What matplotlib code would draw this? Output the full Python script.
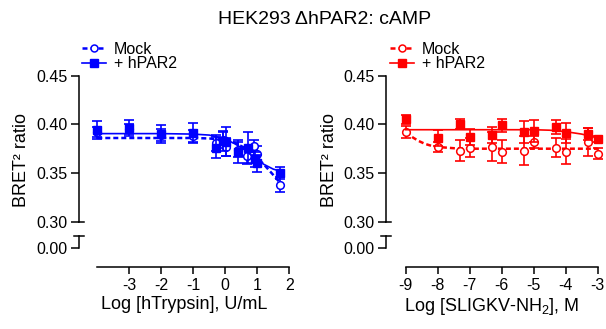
import numpy as np
import matplotlib
matplotlib.use("Agg")
import matplotlib.pyplot as plt
from matplotlib.lines import Line2D

plt.rcParams['font.family'] = ['Liberation Sans', 'DejaVu Sans']
plt.rcParams['mathtext.fontset'] = 'custom'
plt.rcParams['mathtext.rm'] = 'Liberation Sans'
plt.rcParams['mathtext.it'] = 'Liberation Sans:italic'
plt.rcParams['axes.unicode_minus'] = False

BLUE = '#0000ff'
RED = '#ff0000'

# Left panel: hTrypsin (log U/mL)
tryp_mock_x = [-4.0, -3.0, -2.0, -1.0, -0.3, -0.08, 0.03, 0.41, 0.69, 0.89, 0.99, 1.71]
tryp_mock_y = [0.392, 0.395, 0.389, 0.388, 0.381, 0.384, 0.377, 0.374, 0.367, 0.378, 0.370, 0.338]
tryp_mock_err = [0.005, 0.005, 0.006, 0.006, 0.008, 0.008, 0.009, 0.008, 0.008, 0.006, 0.008, 0.008]
tryp_par2_x = [-4.0, -3.0, -2.0, -1.0, -0.3, -0.08, 0.02, 0.41, 0.70, 0.93, 0.98, 1.71]
tryp_par2_y = [0.394, 0.3965, 0.390, 0.391, 0.376, 0.383, 0.382, 0.372, 0.376, 0.364, 0.360, 0.350]
tryp_par2_err = [0.009, 0.008, 0.009, 0.010, 0.011, 0.010, 0.015, 0.012, 0.016, 0.008, 0.009, 0.006]
tryp_fit_mock_x = [-4.0, -1.0, -0.5, 0.0, 0.3, 0.6, 0.9, 1.2, 1.5, 1.71]
tryp_fit_mock_y = [0.386, 0.386, 0.3855, 0.384, 0.381, 0.376, 0.369, 0.359, 0.348, 0.340]
tryp_fit_par2_x = [-4.0, -2.0, -1.0, -0.5, 0.0, 0.3, 0.6, 0.9, 1.2, 1.5, 1.71]
tryp_fit_par2_y = [0.3905, 0.3905, 0.390, 0.389, 0.385, 0.380, 0.374, 0.366, 0.359, 0.354, 0.352]

# Right panel: SLIGKV-NH2 (log M)
slig_x = [-9.0, -8.0, -7.3, -7.0, -6.3, -6.0, -5.3, -5.0, -4.3, -4.0, -3.3, -3.0]
slig_mock_y = [0.392, 0.377, 0.373, 0.376, 0.377, 0.372, 0.373, 0.382, 0.376, 0.372, 0.382, 0.370]
slig_mock_err = [0.006, 0.005, 0.011, 0.010, 0.015, 0.012, 0.015, 0.006, 0.010, 0.013, 0.014, 0.006]
slig_par2_y = [0.405, 0.386, 0.400, 0.387, 0.389, 0.399, 0.392, 0.393, 0.397, 0.391, 0.390, 0.385]
slig_par2_err = [0.005, 0.008, 0.005, 0.008, 0.008, 0.007, 0.011, 0.011, 0.007, 0.010, 0.006, 0.003]
slig_fit_mock_x = [-9.0, -8.8, -8.6, -8.4, -8.2, -8.0, -7.5, -7.0, -3.0]
slig_fit_mock_y = [0.392, 0.387, 0.383, 0.380, 0.378, 0.3768, 0.3755, 0.375, 0.375]
slig_fit_par2_x = [-9.0, -5.0, -4.5, -4.0, -3.5, -3.0]
slig_fit_par2_y = [0.3945, 0.3945, 0.394, 0.3925, 0.390, 0.386]

W, H = 606, 329
fig = plt.figure(figsize=(W / 100, H / 100), dpi=100)

def add_px_axes(left, right, top, bottom):
    return fig.add_axes([left / W, 1 - bottom / H, (right - left) / W, (bottom - top) / H])

def panel(spine_px, first_px, last_px, x_first, x_last, xticks, color,
          mock, par2, fit_mock, fit_par2, xlabel, ylabel_px, legend_px):
    per_unit = (last_px - first_px) / (x_last - x_first)
    xl = x_first - (first_px - spine_px) / per_unit
    wpx = last_px - spine_px

    # upper part of broken axis
    ax = add_px_axes(spine_px, last_px, 75.7, 221.7)
    ax.set_xlim(xl, x_last)
    ax.set_ylim(0.30, 0.45)
    for s in ['top', 'right', 'bottom']:
        ax.spines[s].set_visible(False)
    ax.spines['left'].set_linewidth(1.1)
    ax.set_xticks([])
    ax.set_yticks([0.30, 0.35, 0.40, 0.45])
    ax.set_yticklabels(['0.30', '0.35', '0.40', '0.45'])
    ax.tick_params(axis='y', length=6, width=1.1, pad=2, labelsize=11.5)
    ax.patch.set_alpha(0)
    ax.plot([0, 5 / wpx], [0, 0], transform=ax.transAxes, color='k', lw=1.1, clip_on=False)

    # lower part with 0.00 and the x axis
    lo = add_px_axes(spine_px, last_px, 236.0, 267.3)
    lo.set_xlim(xl, x_last)
    lo.set_ylim(-19.6, 11.7)
    for s in ['top', 'right']:
        lo.spines[s].set_visible(False)
    lo.spines['left'].set_bounds(0, 11.7)
    lo.spines['bottom'].set_bounds(x_first, x_last)
    lo.spines['left'].set_linewidth(1.1)
    lo.spines['bottom'].set_linewidth(1.1)
    lo.set_yticks([0])
    lo.set_yticklabels(['0.00'])
    lo.set_xticks(xticks)
    lo.set_xticklabels([str(t) for t in xticks])
    lo.tick_params(axis='y', length=6, width=1.1, pad=2, labelsize=11.5)
    lo.tick_params(axis='x', length=5, width=1.1, pad=3, labelsize=11.5)
    lo.patch.set_alpha(0)
    lo.plot([-5 / wpx, 5 / wpx], [1, 1], transform=lo.transAxes, color='k', lw=1.1, clip_on=False)
    lo.set_xlabel(xlabel, fontsize=13, labelpad=2)

    # data
    mx, my, me = mock
    px_, py, pe = par2
    ax.errorbar(mx, my, yerr=me, fmt='none', ecolor=color, elinewidth=1.2,
                capsize=3.8, capthick=1.2, clip_on=False, zorder=2)
    ax.plot(fit_mock[0], fit_mock[1], color=color, lw=1.8, ls=(0, (2.0, 1.2)), zorder=3, clip_on=False)
    ax.plot(mx, my, ls='none', marker='o', ms=5.5, mfc='white', mec=color, mew=1.1,
            zorder=4, clip_on=False)
    ax.errorbar(px_, py, yerr=pe, fmt='none', ecolor=color, elinewidth=1.2,
                capsize=3.8, capthick=1.2, clip_on=False, zorder=5)
    ax.plot(fit_par2[0], fit_par2[1], color=color, lw=1.2, zorder=5, clip_on=False)
    ax.plot(px_, py, ls='none', marker='s', ms=6, color=color, zorder=6, clip_on=False)

    fig.text(ylabel_px / W, 1 - 160 / H, 'BRET² ratio', rotation=90, fontsize=13,
             ha='center', va='center')

    handles = [Line2D([], [], color=color, lw=1.8, ls=(0, (2.0, 1.2)), marker='o', ms=5,
                      mfc='white', mec=color, mew=1.1),
               Line2D([], [], color=color, lw=1.2, marker='s', ms=6)]
    ax.legend(handles, ['Mock', '+ hPAR2'], loc='upper left',
              bbox_to_anchor=(legend_px[0] / W, 1 - legend_px[1] / H),
              bbox_transform=fig.transFigure, frameon=False, borderpad=0,
              borderaxespad=0, handlelength=1.5, handletextpad=0.5,
              labelspacing=0.0, fontsize=11.5)
    return ax

panel(78.7, 97.3, 289.3, -4, 2, [-3, -2, -1, 0, 1, 2], BLUE,
      (tryp_mock_x, tryp_mock_y, tryp_mock_err),
      (tryp_par2_x, tryp_par2_y, tryp_par2_err),
      (tryp_fit_mock_x, tryp_fit_mock_y), (tryp_fit_par2_x, tryp_fit_par2_y),
      'Log [hTrypsin], U/mL', 21.7, (81.7, 41.5))

panel(385.7, 405.7, 597.7, -9, -3, [-9, -8, -7, -6, -5, -4, -3], RED,
      (slig_x, slig_mock_y, slig_mock_err),
      (slig_x, slig_par2_y, slig_par2_err),
      (slig_fit_mock_x, slig_fit_mock_y), (slig_fit_par2_x, slig_fit_par2_y),
      r'Log [SLIGKV-NH$_2$], M', 330, (390, 41.5))

fig.text(325 / W, 1 - 19 / H, 'HEK293 ΔhPAR2: cAMP', fontsize=14, ha='center', va='center')

fig.savefig('out.png', dpi=100)
